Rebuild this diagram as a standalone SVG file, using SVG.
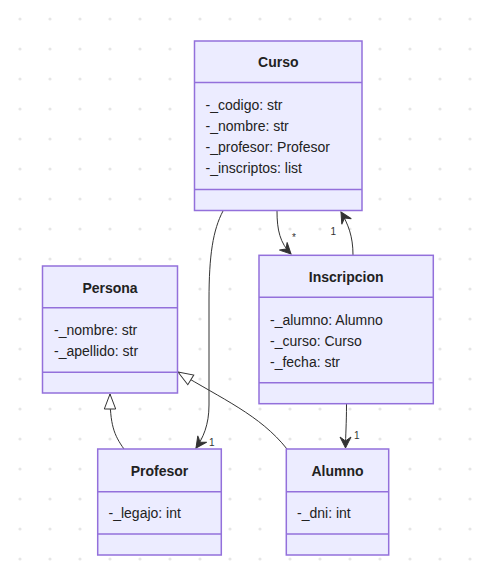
<svg xmlns="http://www.w3.org/2000/svg" width="491" height="574" viewBox="0 0 491 574">
<defs>
<pattern id="dots" patternUnits="userSpaceOnUse" x="5" y="4" width="30" height="30">
<circle cx="15" cy="15" r="1.6" fill="#e6e6e6"/>
</pattern>
<marker id="arrow" markerUnits="userSpaceOnUse" viewBox="-12 -7 14 14" refX="0" refY="0" markerWidth="14" markerHeight="14" orient="auto">
<path d="M0,0 L-11,-5.5 L-7,0 L-11,5.5 Z" fill="#333" stroke="#333" stroke-width="1" stroke-linejoin="miter"/>
</marker>
<marker id="tri" markerUnits="userSpaceOnUse" viewBox="-18 -8 20 16" refX="0" refY="0" markerWidth="20" markerHeight="16" orient="auto">
<path d="M0,0 L-15,-5.7 L-15,5.7 Z" fill="#fff" stroke="#333" stroke-width="1"/>
</marker>
</defs>
<style>
.box{fill:#ECECFF;stroke:#9370DB;stroke-width:1.5}
.div{stroke:#9370DB;stroke-width:1.5}
.title{font-family:"Liberation Sans",Arial,sans-serif;font-size:14px;font-weight:bold;fill:#222;text-anchor:middle}
.attr{font-family:"Liberation Sans",Arial,sans-serif;font-size:14px;fill:#222}
.edge{fill:none;stroke:#333;stroke-width:1}
.lbl{font-family:"Liberation Sans",Arial,sans-serif;font-size:10px;fill:#333;text-anchor:middle}
</style>
<rect width="491" height="574" fill="#fff"/>
<rect width="491" height="574" fill="url(#dots)"/>

<g id="connectors">
<path class="edge" d="M223,211 C213,230 209,255 209,300 L209,405 C209,425 203,438 196,448" marker-end="url(#arrow)"/>
<path class="edge" d="M277,211 C277,230 280,243 291,254" marker-end="url(#arrow)"/>
<path class="edge" d="M353,255 C353,236 348,224 341,212" marker-end="url(#arrow)"/>
<path class="edge" d="M346.5,404 C346.5,425 345.5,435 345.5,448" marker-end="url(#arrow)"/>
<path class="edge" d="M124,449 C114,435 110,425 110,394" marker-end="url(#tri)"/>
<path class="edge" d="M287,449 C260,415 222,399 178,372" marker-end="url(#tri)"/>
<text class="lbl" x="211.7" y="445.5">1</text>
<text class="lbl" x="294" y="241">*</text>
<text class="lbl" x="333.3" y="234.5">1</text>
<text class="lbl" x="356.7" y="438.7">1</text>
</g>

<g id="Curso">
<rect class="box" x="194.5" y="41" width="167.5" height="169.5"/>
<line class="div" x1="194.5" y1="82.5" x2="362" y2="82.5"/>
<line class="div" x1="194.5" y1="189.5" x2="362" y2="189.5"/>
<text class="title" x="278.25" y="67.3">Curso</text>
<text class="attr" x="205.5" y="110">-_codigo: str</text>
<text class="attr" x="205.5" y="131">-_nombre: str</text>
<text class="attr" x="205.5" y="152">-_profesor: Profesor</text>
<text class="attr" x="205.5" y="173">-_inscriptos: list</text>
</g>

<g id="Persona">
<rect class="box" x="42.5" y="266" width="135" height="127"/>
<line class="div" x1="42.5" y1="307.7" x2="177.5" y2="307.7"/>
<line class="div" x1="42.5" y1="372.3" x2="177.5" y2="372.3"/>
<text class="title" x="110" y="292.5">Persona</text>
<text class="attr" x="54" y="335">-_nombre: str</text>
<text class="attr" x="54" y="356">-_apellido: str</text>
</g>

<g id="Inscripcion">
<rect class="box" x="259" y="255.3" width="174.3" height="148.4"/>
<line class="div" x1="259" y1="297.3" x2="433.3" y2="297.3"/>
<line class="div" x1="259" y1="382.7" x2="433.3" y2="382.7"/>
<text class="title" x="346.2" y="281.8">Inscripcion</text>
<text class="attr" x="270" y="324.5">-_alumno: Alumno</text>
<text class="attr" x="270" y="345.5">-_curso: Curso</text>
<text class="attr" x="270" y="366.5">-_fecha: str</text>
</g>

<g id="Profesor">
<rect class="box" x="97.7" y="449" width="123.6" height="106"/>
<line class="div" x1="97.7" y1="491.7" x2="221.3" y2="491.7"/>
<line class="div" x1="97.7" y1="534" x2="221.3" y2="534"/>
<text class="title" x="159.5" y="475.5">Profesor</text>
<text class="attr" x="108.5" y="517.5">-_legajo: int</text>
</g>

<g id="Alumno">
<rect class="box" x="286.3" y="449" width="102.4" height="106"/>
<line class="div" x1="286.3" y1="491.7" x2="388.7" y2="491.7"/>
<line class="div" x1="286.3" y1="534" x2="388.7" y2="534"/>
<text class="title" x="337.5" y="475.5">Alumno</text>
<text class="attr" x="297" y="517.5">-_dni: int</text>
</g>
</svg>
